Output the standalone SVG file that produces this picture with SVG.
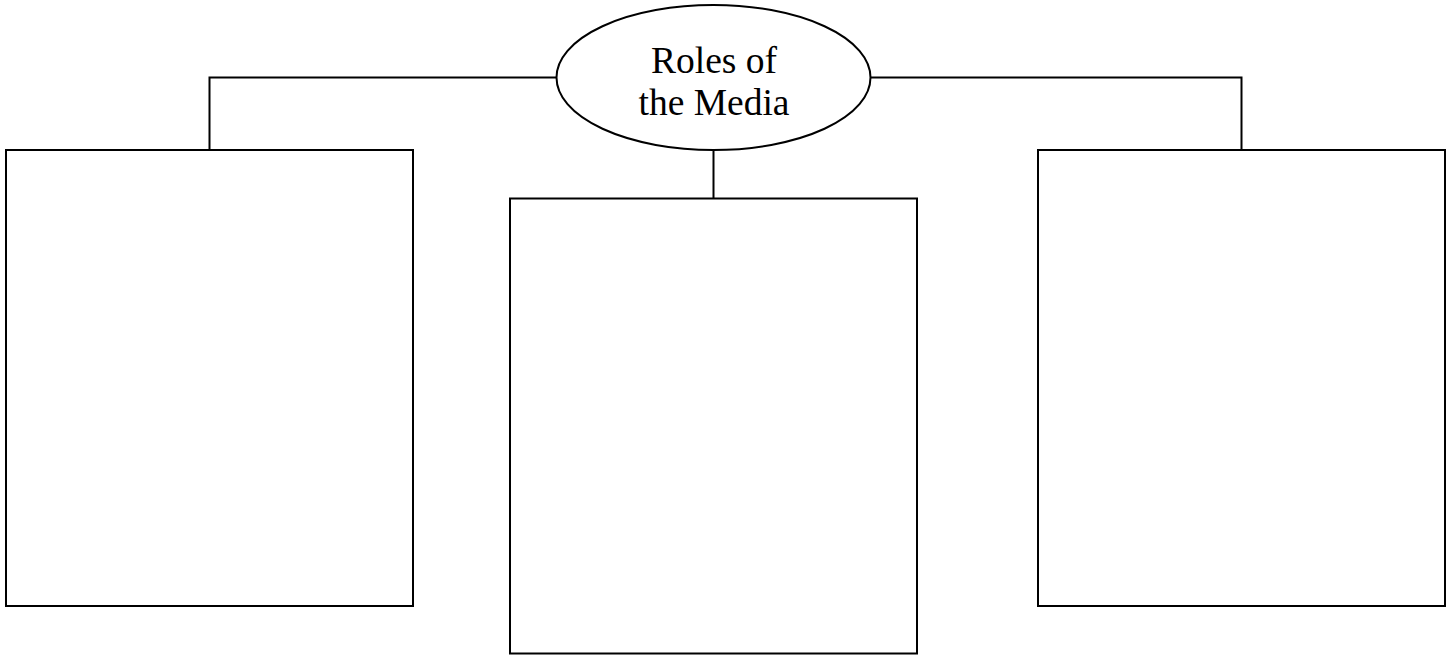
<svg xmlns="http://www.w3.org/2000/svg" width="1451" height="656" viewBox="0 0 1451 656">
<style>
.s{fill:#fff;stroke:#000;stroke-width:2}
.c{fill:none;stroke:#000;stroke-width:2}
.t{font-family:"Liberation Serif","Times New Roman",serif;font-size:37.5px;fill:#000;text-anchor:middle}
</style>
<rect width="1451" height="656" fill="#fff"/>
<g id="connectors">
<polyline class="c" points="556.5,77.5 209.5,77.5 209.5,150"/>
<polyline class="c" points="870.5,77.5 1241.5,77.5 1241.5,150"/>
<line class="c" x1="713.5" y1="150" x2="713.5" y2="198.5"/>
</g>
<g id="root">
<ellipse class="s" cx="713.5" cy="77.5" rx="157" ry="72.5"/>
<text class="t" x="714" y="73">Roles of</text>
<text class="t" x="714" y="115">the Media</text>
</g>
<g id="box-left"><rect class="s" x="6" y="150" width="407" height="456"/></g>
<g id="box-middle"><rect class="s" x="510" y="198.5" width="407" height="455"/></g>
<g id="box-right"><rect class="s" x="1038" y="150" width="407" height="456"/></g>
</svg>
